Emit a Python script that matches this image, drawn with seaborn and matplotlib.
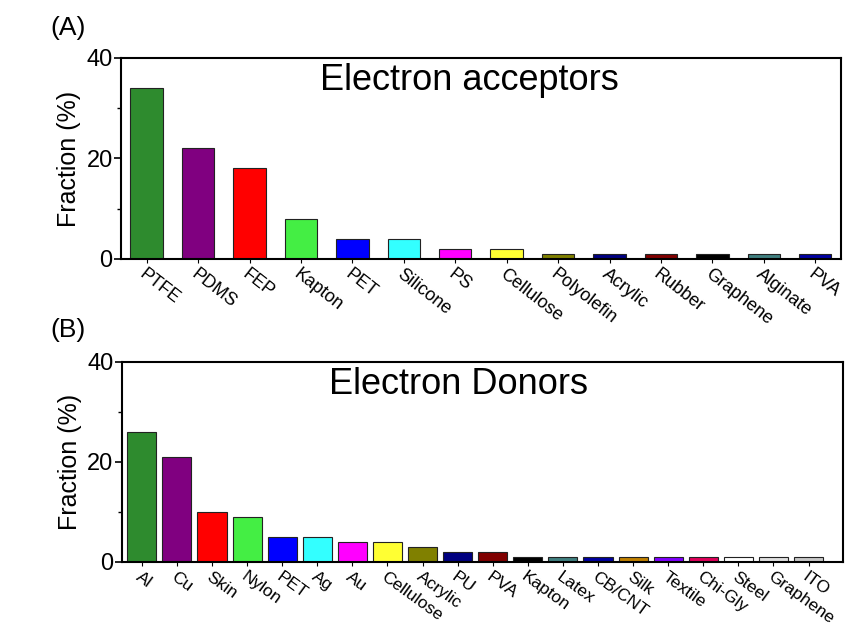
import matplotlib
matplotlib.use("Agg")
import matplotlib.pyplot as plt
from matplotlib.ticker import MultipleLocator
import seaborn as sns

sns.set_style("white")
plt.rcParams["font.family"] = ["Liberation Sans", "DejaVu Sans"]
plt.rcParams.update({"text.color": "black", "axes.labelcolor": "black",
                     "xtick.color": "black", "ytick.color": "black"})

# Electron acceptor materials
acceptors = ["PTFE", "PDMS", "FEP", "Kapton", "PET", "Silicone", "PS", "Cellulose",
             "Polyolefin", "Acrylic", "Rubber", "Graphene", "Alginate", "PVA"]
acceptor_frac = [34, 22, 18, 8, 4, 4, 2, 2, 1, 1, 1, 1, 1, 1]
acceptor_colors = ["#2e8b2e", "#800080", "#ff0000", "#44ee44", "#0000ff", "#33ffff",
                   "#ff00ff", "#ffff33", "#808000", "#000080", "#800000", "#000000",
                   "#408080", "#0000a0"]

# Electron donor materials
donors = ["Al", "Cu", "Skin", "Nylon", "PET", "Ag", "Au", "Cellulose", "Acrylic", "PU",
          "PVA", "Kapton", "Latex", "CB/CNT", "Silk", "Textile", "Chi-Gly", "Steel",
          "Graphene", "ITO"]
donor_frac = [26, 21, 10, 9, 5, 5, 4, 4, 3, 2, 2, 1, 1, 1, 1, 1, 1, 1, 1, 1]
donor_colors = ["#2e8b2e", "#800080", "#ff0000", "#44ee44", "#0000ff", "#33ffff",
                "#ff00ff", "#ffff33", "#808000", "#000080", "#800000", "#000000",
                "#408080", "#0000a0", "#c08000", "#8000ff", "#e0005a", "#ffffff",
                "#e0e0e0", "#c8c8c8"]

fig = plt.figure(figsize=(8.46, 6.27), dpi=100)
ax_a = fig.add_axes([0.143, 0.587, 0.851, 0.3206])
ax_b = fig.add_axes([0.144, 0.1037, 0.852, 0.319])


def draw_panel(ax, cats, vals, colors, width, title, title_xy, xlim, label_rot, label_size):
    sns.barplot(x=cats, y=vals, hue=cats, palette=colors, legend=False,
                saturation=1, width=width, edgecolor="#222222", linewidth=0.8, ax=ax)
    ax.set_ylim(0, 40)
    ax.set_xlim(*xlim)
    ax.yaxis.set_major_locator(MultipleLocator(20))
    ax.yaxis.set_minor_locator(MultipleLocator(10))
    ax.tick_params(axis="y", which="major", direction="out", length=5, width=1.2,
                   labelsize=17, left=True, pad=1)
    ax.tick_params(axis="y", which="minor", direction="out", length=3, width=1.0, left=True)
    ax.tick_params(axis="x", which="major", direction="out", length=3, width=0.8,
                   bottom=True, pad=2)
    ax.set_xticks(range(len(cats)))
    ax.set_xticklabels(cats, rotation=label_rot, ha="left", rotation_mode="anchor",
                       fontsize=label_size)
    ax.set_ylabel("Fraction (%)", fontsize=18, labelpad=4)
    for sp in ax.spines.values():
        sp.set_visible(True)
        sp.set_color("black")
        sp.set_linewidth(1.5)
    ax.text(title_xy[0], title_xy[1], title, transform=ax.transAxes, fontsize=26,
            ha="left", va="center")


draw_panel(ax_a, acceptors, acceptor_frac, acceptor_colors, 0.63,
           "Electron acceptors", (0.276, 0.89), (-0.5, 13.5), -38, 13)
draw_panel(ax_b, donors, donor_frac, donor_colors, 0.83,
           "Electron Donors", (0.288, 0.885), (-0.57, 19.97), -36, 12.5)

fig.text(0.059, 0.955, "(A)", fontsize=19, ha="left", va="center")
fig.text(0.059, 0.474, "(B)", fontsize=19, ha="left", va="center")

fig.savefig("out.png", dpi=100, facecolor="white")
